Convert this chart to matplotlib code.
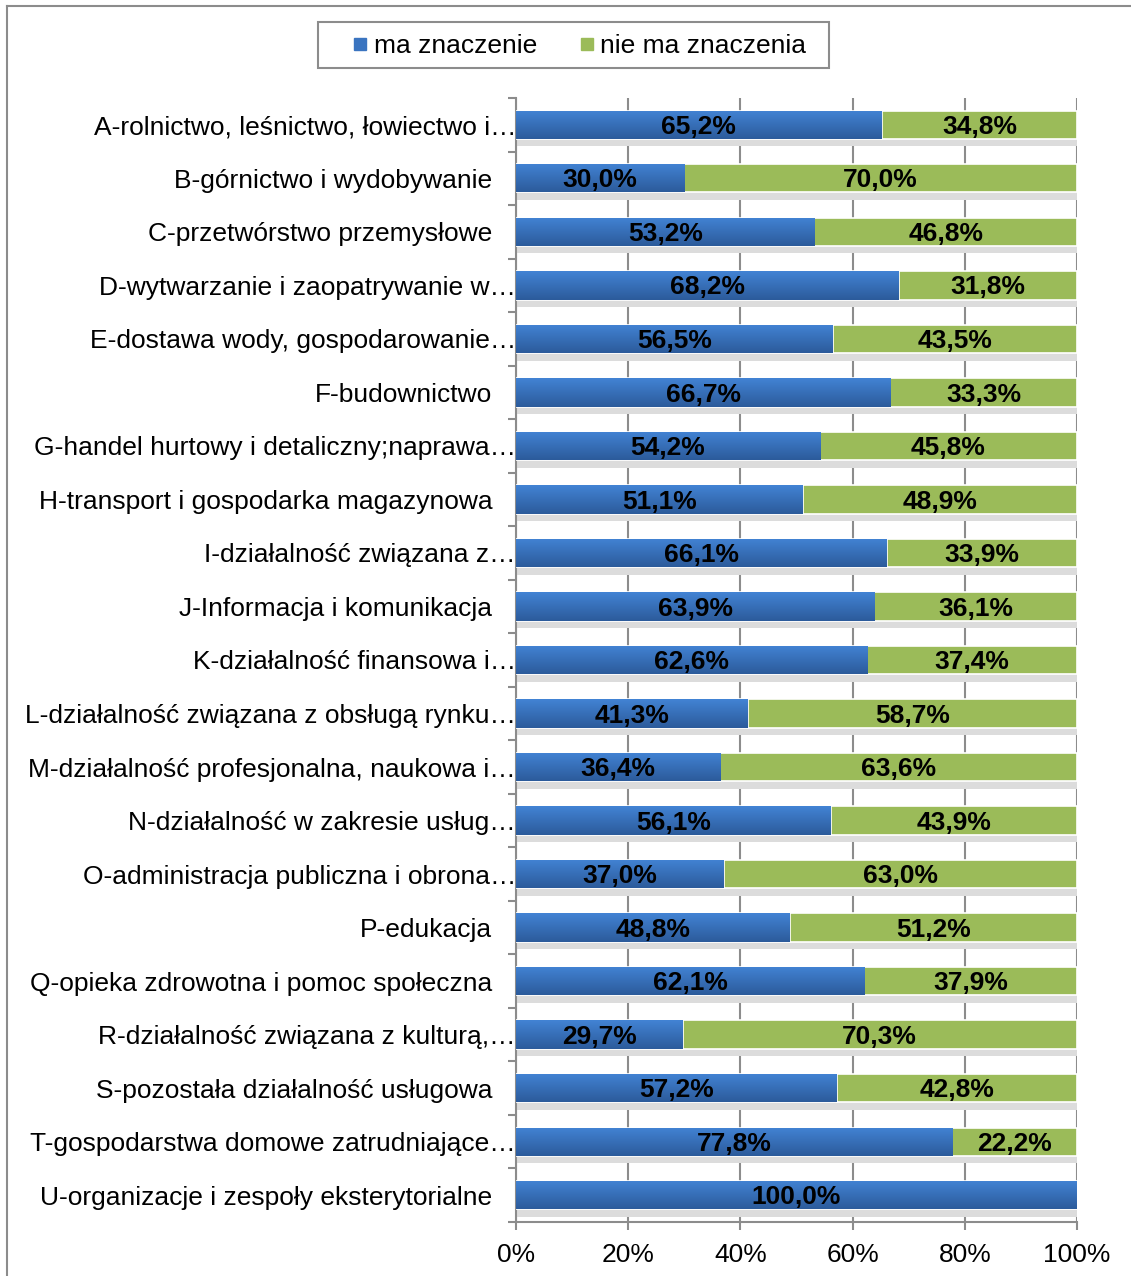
import matplotlib
matplotlib.use("Agg")
import matplotlib.pyplot as plt
import numpy as np
from matplotlib.colors import LinearSegmentedColormap
from matplotlib.patches import Rectangle
from matplotlib.lines import Line2D
from matplotlib.transforms import ScaledTranslation

plt.rcParams['font.family'] = ['Liberation Sans', 'DejaVu Sans']

# data
categories = [
    "A-rolnictwo, leśnictwo, łowiectwo i…",
    "B-górnictwo i wydobywanie",
    "C-przetwórstwo przemysłowe",
    "D-wytwarzanie i zaopatrywanie w…",
    "E-dostawa wody, gospodarowanie…",
    "F-budownictwo",
    "G-handel hurtowy i detaliczny;naprawa…",
    "H-transport i gospodarka magazynowa",
    "I-działalność związana z…",
    "J-Informacja i komunikacja",
    "K-działalność finansowa i…",
    "L-działalność związana z obsługą rynku…",
    "M-działalność profesjonalna, naukowa i…",
    "N-działalność w zakresie usług…",
    "O-administracja publiczna i obrona…",
    "P-edukacja",
    "Q-opieka zdrowotna i pomoc społeczna",
    "R-działalność związana z kulturą,…",
    "S-pozostała działalność usługowa",
    "T-gospodarstwa domowe zatrudniające…",
    "U-organizacje i zespoły eksterytorialne",
]
ma_znaczenie = [65.2, 30.0, 53.2, 68.2, 56.5, 66.7, 54.2, 51.1, 66.1, 63.9, 62.6,
                41.3, 36.4, 56.1, 37.0, 48.8, 62.1, 29.7, 57.2, 77.8, 100.0]
nie_ma_znaczenia = [34.8, 70.0, 46.8, 31.8, 43.5, 33.3, 45.8, 48.9, 33.9, 36.1, 37.4,
                    58.7, 63.6, 43.9, 63.0, 51.2, 37.9, 70.3, 42.8, 22.2, 0.0]
series_names = ["ma znaczenie", "nie ma znaczenia"]
x_ticks = [0, 20, 40, 60, 80, 100]

blue = '#3A74C0'
green = '#9BBB59'
gray = '#8C8C8C'
fs = 19

fig = plt.figure(figsize=(11.31, 12.76), dpi=100)
ax = fig.add_axes([516 / 1131, 1 - 1222 / 1276, 561 / 1131, 1124 / 1276])

y = np.arange(len(categories))
h = 0.53
ma = np.array(ma_znaczenie)
nie = np.array(nie_ma_znaczenia)

# soft shadow under the bars
ax.barh(y + h / 2 + 0.07, ma + nie, height=0.14, color='#dcdcdc', zorder=2)

bars_ma = ax.barh(y, ma, height=h, color=blue, edgecolor='white', linewidth=1.2, zorder=3)
bars_nie = ax.barh(y, nie, left=ma, height=h, color=green, edgecolor='white', linewidth=1.2, zorder=3)

# vertical gradient on the blue bars
cmap = LinearSegmentedColormap.from_list('bl', ['#4283D4', '#2C5B9B'])
grad = np.linspace(0, 1, 64).reshape(-1, 1)
for p in bars_ma:
    x0, y0 = p.get_x(), p.get_y()
    im = ax.imshow(grad, cmap=cmap, aspect='auto', origin='upper',
                   extent=(x0, x0 + p.get_width(), y0 + p.get_height(), y0), zorder=3.5)
    im.set_clip_path(p)

def fmt(v):
    return ('%.1f%%' % v).replace('.', ',')

for i in range(len(categories)):
    ax.text(ma[i] / 2, y[i] + 0.04, fmt(ma[i]), ha='center', va='center',
            fontsize=fs, fontweight='bold', color='black', zorder=5)
    if nie[i] > 0:
        ax.text(ma[i] + nie[i] / 2, y[i] + 0.04, fmt(nie[i]), ha='center', va='center',
                fontsize=fs, fontweight='bold', color='black', zorder=5)

ax.set_xlim(0, 100)
ax.set_ylim(len(categories) - 0.5, -0.5)
ax.set_aspect('auto')

ax.set_xticks(x_ticks)
ax.set_xticklabels(['%d%%' % t for t in x_ticks], fontsize=fs)
ax.set_yticks(y)
ax.set_yticklabels(categories, fontsize=fs)
ax.set_yticks(np.arange(len(categories) + 1) - 0.5, minor=True)
ax.tick_params(axis='y', which='major', length=0, pad=17)
ax.tick_params(axis='y', which='minor', length=6, width=1.5, color=gray, direction='out')
ax.tick_params(axis='x', length=6, width=1.5, color=gray, direction='out', pad=9)
ax.grid(axis='x', color=gray, linewidth=1.5, zorder=0)
ax.set_axisbelow(True)
for s in ['top', 'right']:
    ax.spines[s].set_visible(False)
for s in ['left', 'bottom']:
    ax.spines[s].set_color(gray)
    ax.spines[s].set_linewidth(1.5)

# truncated labels run right up to the axis
for lab in ax.get_yticklabels():
    if lab.get_text().endswith('…'):
        lab.set_transform(lab.get_transform() + ScaledTranslation(17 / 72, 0, fig.dpi_scale_trans))

# legend
handles = [Line2D([], [], marker='s', linestyle='none', markersize=8, color=blue),
           Line2D([], [], marker='s', linestyle='none', markersize=8, color=green)]
leg = fig.legend(handles, series_names, loc='center', bbox_to_anchor=(578 / 1131, 1 - 46 / 1276),
                 ncol=2, fontsize=fs, frameon=False,
                 handletextpad=0.1, columnspacing=1.5, handlelength=0.8)
fig.add_artist(Rectangle((318 / 1131, 1 - 68 / 1276), 511 / 1131, 46 / 1276,
                         transform=fig.transFigure, facecolor='none', edgecolor=gray, linewidth=1.5))

# outer chart border
fig.add_artist(Line2D([7 / 1131, 7 / 1131], [0, 1 - 6 / 1276], transform=fig.transFigure,
                      color=gray, linewidth=1.5))
fig.add_artist(Line2D([7 / 1131, 1], [1 - 6 / 1276, 1 - 6 / 1276], transform=fig.transFigure,
                      color=gray, linewidth=1.5))

fig.savefig('out.png', dpi=100)
